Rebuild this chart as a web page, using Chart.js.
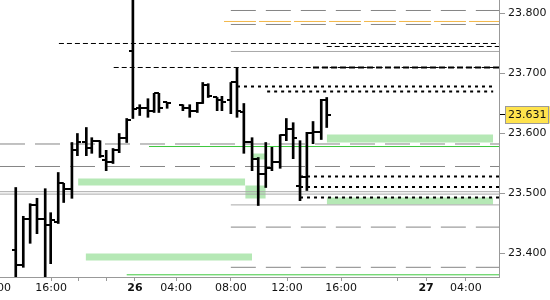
<!DOCTYPE html>
<html><head><meta charset="utf-8">
<script src="https://cdn.jsdelivr.net/npm/chart.js@4"></script>
<style>html,body{margin:0;padding:0;background:#fff}#wrap{width:550px;height:300px;position:relative}</style>
</head><body><div id="wrap"><canvas id="c"></canvas></div>
<script>
// ---- axes ----
const xMin = 0, xMax = 72.85;            // x in bar slots
const yMin = 23.36083, yMax = 23.8225;
const lastPrice = 23.631;

const xTickValues = [-0.7, 7.45, 11.4, 15.6, 19.7, 25.7, 33.7, 41.9, 49.8, 58.1, 62.2, 68.0];
const xTickLabels = ['12:00', '16:00', '', '', '26', '04:00', '08:00', '12:00', '16:00', '', '27', '04:00'];
const xBoldLabels = ['26', '27'];
const yTickValues = [23.4, 23.5, 23.6, 23.7, 23.8];

// ---- OHLC bars ----
const barX = [2.3, 3.4, 4.4, 5.4, 6.6, 7.4, 8.5, 9.3, 10.5, 11.3, 12.6, 13.4, 14.6, 15.5, 16.5, 17.4, 18.5, 19.4, 20.4, 21.6, 22.5, 23.2, 24.4, 26.7, 27.7, 28.8, 29.6, 30.4, 31.7, 32.4, 33.7, 34.6, 35.6, 36.8, 37.7, 38.8, 39.7, 40.9, 41.8, 42.8, 43.8, 44.8, 45.7, 46.9, 47.7];
const barOpen = [23.405, 23.380, 23.458, 23.480, 23.458, 23.448, 23.452, 23.517, 23.508, 23.572, 23.585, 23.575, 23.587, 23.555, 23.552, 23.572, 23.592, 23.738, 23.643, 23.642, 23.638, 23.667, 23.652, 23.648, 23.642, 23.638, 23.650, 23.680, 23.660, 23.655, 23.655, 23.685, 23.635, 23.585, 23.558, 23.533, 23.542, 23.552, 23.597, 23.608, 23.512, 23.528, 23.600, 23.602, 23.655];
const barHigh = [23.510, 23.462, 23.483, 23.492, 23.508, 23.468, 23.535, 23.517, 23.585, 23.600, 23.610, 23.593, 23.588, 23.572, 23.575, 23.600, 23.625, 23.850, 23.648, 23.658, 23.667, 23.667, 23.652, 23.648, 23.648, 23.652, 23.685, 23.683, 23.660, 23.662, 23.685, 23.710, 23.650, 23.593, 23.560, 23.585, 23.577, 23.598, 23.625, 23.618, 23.588, 23.602, 23.620, 23.657, 23.660];
const barLow = [23.330, 23.377, 23.417, 23.433, 23.330, 23.383, 23.450, 23.485, 23.492, 23.563, 23.563, 23.567, 23.560, 23.538, 23.550, 23.568, 23.585, 23.625, 23.630, 23.627, 23.635, 23.635, 23.642, 23.638, 23.627, 23.635, 23.650, 23.660, 23.638, 23.638, 23.633, 23.627, 23.567, 23.538, 23.480, 23.510, 23.538, 23.542, 23.588, 23.558, 23.488, 23.505, 23.583, 23.590, 23.610];
const barClose = [23.380, 23.458, 23.480, 23.458, 23.448, 23.455, 23.517, 23.507, 23.572, 23.585, 23.575, 23.587, 23.563, 23.552, 23.572, 23.592, 23.622, 23.640, 23.643, 23.638, 23.667, 23.643, 23.650, 23.642, 23.638, 23.650, 23.680, 23.663, 23.655, 23.652, 23.685, 23.638, 23.585, 23.558, 23.533, 23.542, 23.552, 23.597, 23.608, 23.592, 23.528, 23.600, 23.602, 23.655, 23.631];

// ---- horizontal levels ----
const grayDashPrice = [23.805, 23.7817, 23.5825, 23.545, 23.444, 23.377];
const grayDashStart = [33.7, 33.7, 0, 0, 33.7, 33.7];
const graySolidPrice = [23.7367, 23.503, 23.499, 23.481];
const graySolidStart = [33.7, 0, 0, 33.7];
const orangePrice = [23.7867];
const orangeStart = [32.7];
const blackDashPrice = [23.75, 23.745, 23.71];
const blackDashStart = [8.6, 47.7, 16.6];
const blackThickPrice = [23.71];
const blackThickStart = [45.7];
const dottedPrice = [23.6783, 23.67, 23.5283, 23.511, 23.4933];
const dottedStart = [34.6, 39.0, 43.8, 43.8, 43.8];
const dottedEnd = [72.0, 72.0, 72.85, 72.85, 72.85];
const greenLinePrice = [23.5783, 23.3645];
const greenLineStart = [21.75, 18.5];

// ---- green zones ----
const zoneTop = [23.5983, 23.525, 23.5133, 23.5667, 23.4933, 23.4];
const zoneBottom = [23.585, 23.5133, 23.4917, 23.5567, 23.4817, 23.3883];
const zoneStart = [47.7, 11.4, 35.8, 36.9, 47.7, 12.5];
const zoneEnd = [72.0, 35.8, 38.8, 38.7, 72.0, 36.8];

function tickCanvas(side) {
  const c = document.createElement('canvas');
  c.width = 8; c.height = 2;
  const g = c.getContext('2d');
  g.fillStyle = '#000';
  g.fillRect(side === 'left' ? 0 : 4, 0, 4, 2);
  return c;
}

const datasets = [];
datasets.push({
  type: 'bar', order: 0,
  data: barX.map((x, i) => ({ x: x, y: [barLow[i], barHigh[i]] })),
  backgroundColor: '#000', borderWidth: 0, barThickness: 2, grouped: false
});
datasets.push({
  type: 'scatter', order: 0,
  data: barX.map((x, i) => ({ x: x, y: barOpen[i] })),
  pointStyle: tickCanvas('left'), pointRadius: 1, pointBorderWidth: 0
});
datasets.push({
  type: 'scatter', order: 0,
  data: barX.map((x, i) => ({ x: x, y: barClose[i] })),
  pointStyle: tickCanvas('right'), pointRadius: 1, pointBorderWidth: 0
});

function addLevels(prices, starts, ends, style) {
  prices.forEach((p, i) => {
    const e = ends ? ends[i] : xMax;
    datasets.push(Object.assign({
      type: 'line', order: 5,
      data: [{ x: starts[i], y: p }, { x: e, y: p }],
      pointRadius: 0, fill: false, tension: 0
    }, style));
  });
}
addLevels(grayDashPrice, grayDashStart, null, { borderColor: '#858585', borderWidth: 1, borderDash: [25, 10] });
addLevels(graySolidPrice, graySolidStart, null, { borderColor: '#a8a8a8', borderWidth: 1 });
addLevels(orangePrice, orangeStart, null, { borderColor: '#f2b84a', borderWidth: 1, borderDash: [32, 3] });
addLevels(blackDashPrice, blackDashStart, null, { borderColor: '#000', borderWidth: 1, borderDash: [5, 3] });
addLevels(blackThickPrice, blackThickStart, null, { borderColor: '#000', borderWidth: 2, borderDash: [6, 3] });
addLevels(dottedPrice, dottedStart, dottedEnd, { borderColor: '#000', borderWidth: 2, borderDash: [3, 4] });
addLevels(greenLinePrice, greenLineStart, null, { borderColor: '#3cc83c', borderWidth: 1 });

zoneTop.forEach((t, i) => {
  datasets.push({
    type: 'line', order: 10,
    data: [{ x: zoneStart[i], y: t }, { x: zoneEnd[i], y: t }],
    borderWidth: 0, pointRadius: 0, tension: 0,
    fill: { value: zoneBottom[i] },
    backgroundColor: '#b5e8b5'
  });
});

function tagGradient(ctx) {
  const s = ctx.scale;
  const y = s.getPixelForValue(lastPrice);
  const g = ctx.chart.ctx.createLinearGradient(0, y - 9, 0, y + 9);
  g.addColorStop(0, '#ffe34d');
  g.addColorStop(1, '#f0b000');
  return g;
}

const priceTagBorder = {
  id: 'priceTagBorder',
  afterDraw(chart) {
    const s = chart.scales.y;
    const y = s.getPixelForValue(lastPrice);
    const g = chart.ctx;
    g.save();
    g.strokeStyle = '#9a9a9a';
    g.lineWidth = 1;
    g.strokeRect(s.left + 6.5, Math.round(y) - 8.5, 43, 17);
    g.restore();
  }
};

new Chart(document.getElementById('c'), {
  type: 'line',
  data: { datasets: datasets },
  plugins: [priceTagBorder],
  options: {
    responsive: true, maintainAspectRatio: false, animation: false, events: [],
    layout: { padding: 0, autoPadding: false },
    plugins: { legend: { display: false }, tooltip: { enabled: false } },
    scales: {
      x: {
        type: 'linear', position: 'bottom', min: xMin, max: xMax, offset: false,
        afterBuildTicks: s => { s.ticks = xTickValues.map(v => ({ value: v })); },
        afterFit: s => { s.height = 23; s.paddingLeft = 0; s.paddingRight = 0; },
        ticks: {
          autoSkip: false, maxRotation: 0, padding: 1, color: '#111',
          callback: (v, i) => xTickLabels[i],
          font: ctx => ({ family: 'DejaVu Sans', size: 11,
            weight: xBoldLabels.includes(xTickLabels[ctx.index]) ? 'bold' : 'normal' })
        },
        grid: { offset: false, drawOnChartArea: false, drawTicks: true, tickLength: 4, color: '#999' },
        border: { color: '#999' }
      },
      y: {
        type: 'linear', position: 'right', min: yMin, max: yMax,
        afterBuildTicks: s => {
          s.ticks = yTickValues.concat([lastPrice]).sort((a, b) => a - b).map(v => ({ value: v }));
        },
        afterFit: s => { s.width = 51; s.paddingTop = 0; s.paddingBottom = 0; },
        ticks: {
          padding: 3, color: '#111',
          font: { family: 'DejaVu Sans', size: 11 },
          callback: v => Number(v).toFixed(3),
          showLabelBackdrop: ctx => !!(ctx.tick && ctx.tick.value === lastPrice),
          backdropColor: ctx => (ctx.tick && ctx.tick.value === lastPrice) ? tagGradient(ctx) : 'rgba(0,0,0,0)',
          backdropPadding: { top: 2, bottom: 2, left: 3, right: 4 }
        },
        grid: {
          drawOnChartArea: false, drawTicks: true, tickLength: 6,
          color: ctx => (ctx.tick && ctx.tick.value === lastPrice) ? '#000' : '#999'
        },
        border: { color: '#999' }
      }
    }
  }
});
</script>
</body></html>
